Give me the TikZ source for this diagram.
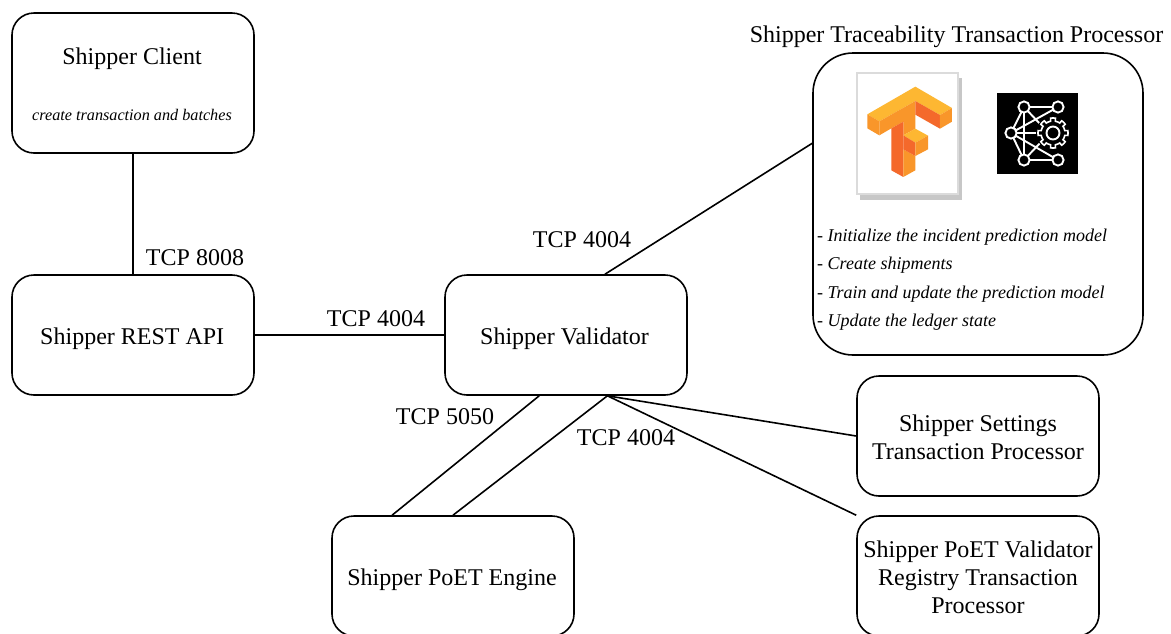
\documentclass[tikz,border=0pt]{standalone}
\usepackage{fontspec}
\setmainfont{Liberation Serif}
\usetikzlibrary{calc}
\definecolor{tfa}{HTML}{FDB732}
\definecolor{tfb}{HTML}{F9962A}
\definecolor{tfc}{HTML}{F4692B}
\newcommand{\oneup}{\rule{0pt}{25pt}}
\newcommand{\twoup}{\rule{0pt}{19pt}}
\tikzset{
  x=1pt,y=-1pt,
  box/.style={draw=black,line width=1.6pt,rounded corners=22pt,minimum width=242pt,minimum height=120pt,inner sep=0pt,align=center,font=\fontsize{24}{28}\selectfont},
  conn/.style={draw=black,line width=1.6pt},
  lab/.style={inner sep=0pt,font=\fontsize{24}{28}\selectfont},
  note/.style={inner sep=0pt,anchor=west,font=\itshape\fontsize{18}{20}\selectfont},
  ic/.style={draw=white,line width=1.9pt,line cap=round},
}
\begin{document}
\begin{tikzpicture}
\useasboundingbox (0,0) rectangle (1171,633);
\clip (0,0) rectangle (1171,633);
\node[box,minimum height=140pt] (client) at (133,83) {};
\node[lab] (clientt) at (132,59) {Shipper Client};
\node[inner sep=0pt,font=\itshape\fontsize{16.2}{18}\selectfont] (clients) at (132,115) {create transaction and batches};
\node[box] (api) at (133,335) {\oneup\kern-1.5pt Shipper REST API};
\node[box] (val) at (566,335) {\oneup\kern-3pt Shipper Validator};
\node[box] (poet) at (453,576) {\oneup\kern-2pt Shipper PoET Engine};
\node[box] (set) at (978,436) {\twoup Shipper Settings\\Transaction Processor};
\node[box] (reg) at (978,576) {\twoup Shipper PoET Validator\\Registry Transaction\\Processor};
\node[draw=black,line width=1.6pt,rounded corners=40pt,minimum width=330pt,minimum height=302pt,inner sep=0pt] (tp) at (978,204) {};
\node[lab] (tpt) at (956.5,37) {Shipper Traceability Transaction Processor};
\node[note] (n1) at (817,237) {- Initialize the incident prediction model};
\node[note] (n2) at (817,265) {- Create shipments};
\node[note] (n3) at (817,294) {- Train and update the prediction model};
\node[note] (n4) at (817,322) {- Update the ledger state};
\node[lab] (l1) at (195,258) {TCP 8008};
\node[lab] (l2) at (376,319) {TCP 4004};
\node[lab] (l3) at (582,240) {TCP 4004};
\node[lab] (l4) at (445,417) {TCP 5050};
\node[lab] (l5) at (626,438) {TCP 4004};
\coordinate (vt) at ($(val.north west)!0.66!(val.north east)$);
\coordinate (vb1) at ($(val.south west)!0.39!(val.south east)$);
\coordinate (vb2) at ($(val.south west)!0.67!(val.south east)$);
\coordinate (pt1) at ($(poet.north west)!0.25!(poet.north east)$);
\coordinate (pt2) at ($(poet.north west)!0.5!(poet.north east)$);
\coordinate (tpl) at ($(tp.north west)!0.3!(tp.south west)$);
\draw[conn] (client.south) -- (api.north);
\draw[conn] (api.east) -- (val.west);
\draw[conn] (vt) -- (tpl);
\draw[conn] (vb1) -- (pt1);
\draw[conn] (vb2) -- (pt2);
\draw[conn] (vb2) -- (set.west);
\draw[conn] (vb2) -- (reg.north west);
% TensorFlow card
\fill[black!22] (860,78) rectangle (962,200);
\draw[fill=white,draw=black!14,line width=1.4pt] (857,73) rectangle (958,194);
% logo
\begin{scope}[shift={(860,82)},x=0.3333pt,y=-0.3333pt]
\fill[tfa] (22,97)--(166,14)--(276,78)--(240,99)--(166,57)--(58,118)--cycle;
\fill[tfb] (22,97)--(58,118)--(58,160)--(22,139)--cycle;
\fill[tfb] (58,118)--(166,57)--(166,140)--(130,160)--(130,119)--(94,139)--(58,160)--cycle;
\fill[tfc] (166,57)--(240,99)--(240,140)--(166,98)--cycle;
\fill[tfb] (240,99)--(276,78)--(276,119)--(240,140)--cycle;
\fill[tfc] (94,139)--(130,119)--(130,285)--(94,265)--cycle;
\fill[tfb] (130,202)--(166,222)--(166,265)--(130,285)--cycle;
\fill[tfa] (130,160)--(166,140)--(204,161)--(166,182)--cycle;
\fill[tfc] (130,160)--(166,182)--(166,222)--(130,202)--cycle;
\fill[tfb] (166,182)--(204,161)--(204,202)--(166,222)--cycle;
\end{scope}
% icon
\fill[black] (997,93) rectangle (1078,174);
\coordinate (ia) at (1024,107);
\coordinate (ib) at (1058,107);
\coordinate (ic) at (1011,133);
\coordinate (id) at (1024,160);
\coordinate (ie) at (1058,160);
\coordinate (ig) at (1053,133);
\draw[ic] (ia)--(ib) (ia)--(ic) (ic)--(id) (id)--(ie) (ia)--(id) (ic)--(ib) (ic)--(ie) (ic)--(1040,133) (ia)--(1042,126) (id)--(1042,141);
\foreach \p in {ia,ib,ic,id,ie}{\draw[ic,fill=black] (\p) circle (5.6pt);}
\fill[black] (ig) circle (17pt);
\draw[ic,line width=1.6pt,fill=black,shift={(ig)}] plot[domain=0:360,samples=193] (\x:{12+3*(cos(8*\x)>0)}) -- cycle;
\draw[ic] (ig) circle (6.5pt);
\end{tikzpicture}
\end{document}
